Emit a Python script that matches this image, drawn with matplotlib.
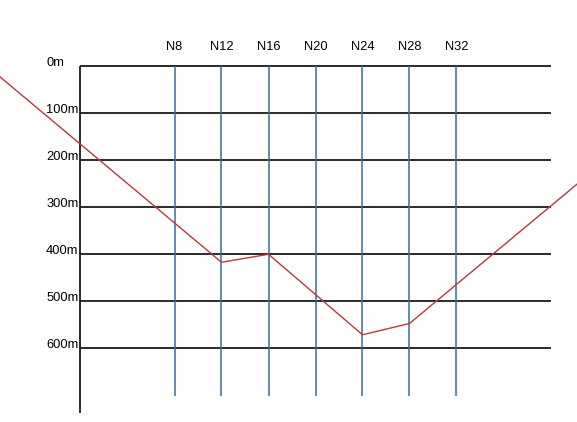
import matplotlib
matplotlib.use("Agg")
import matplotlib.pyplot as plt

# Data
depths = [0, 100, 200, 300, 400, 500, 600]
depth_labels = ["0m", "100m", "200m", "300m", "400m", "500m", "600m"]
stations = [8, 12, 16, 20, 24, 28, 32]
station_labels = ["N8", "N12", "N16", "N20", "N24", "N28", "N32"]
profile_x = [-7, 12, 16, 24, 28, 42.5]
profile_depth = [20, 417, 400, 571, 547, 246]

W, H, DPI = 577, 422, 100
fig = plt.figure(figsize=(W / DPI, H / DPI), dpi=DPI)
ax = fig.add_axes([0, 0, 1, 1])
ax.set_axis_off()

# pixel mapping: x_px = 174.5 + (N-8)*11.75 ; y_px = 66 + d*0.4707
xs = 11.75
ys = 0.4707
x0 = 8 - 174.5 / xs
x1 = 8 + (W - 174.5) / xs
y0 = -66 / ys
y1 = (H - 66) / ys
ax.set_xlim(x0, x1)
ax.set_ylim(y1, y0)

left = 8 - (174.5 - 79.5) / xs

font = dict(family=["Liberation Sans", "DejaVu Sans"], fontsize=9.3, color="black")

# horizontal depth lines
for d in depths:
    ax.plot([left, 40], [d, d], color="#1a1a1a", lw=1.3, solid_capstyle="butt", zorder=2)

# left axis line
ax.plot([left, left], [0, (413 - 66) / ys], color="#1a1a1a", lw=1.3, solid_capstyle="butt", zorder=2)

# station lines
for s in stations:
    ax.plot([s, s], [0, (396 - 66) / ys], color="#2f6ea5", lw=1.1, solid_capstyle="butt", zorder=3)

# profile line
ax.plot(profile_x, profile_depth, color="#b8393b", lw=1.0, zorder=4, clip_on=True)

# depth labels
for d, lab in zip(depths, depth_labels):
    if d == 0:
        ax.text(8 - (174.5 - 46.5) / xs, d - 2.5 / ys, lab, ha="left", va="center", **font)
    else:
        ax.text(8 - (174.5 - 78.5) / xs, d - 3.0 / ys, lab, ha="right", va="center", **font)

# station labels
for s, lab in zip(stations, station_labels):
    ax.text(s, -(66 - 47) / ys, lab, ha="center", va="center", **font)

fig.savefig("out.png", dpi=DPI)
